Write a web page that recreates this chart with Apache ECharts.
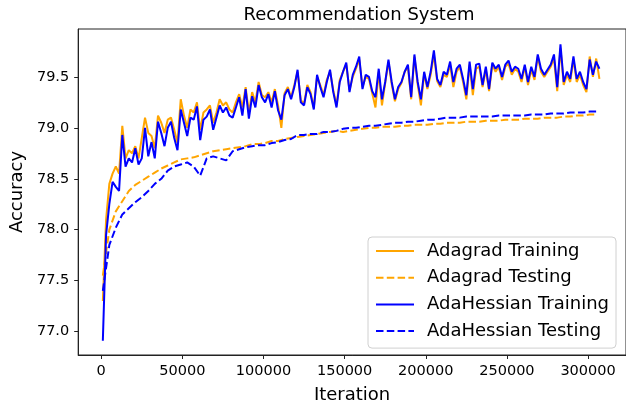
<!DOCTYPE html>
<html>
<head>
<meta charset="utf-8">
<script src="https://cdn.jsdelivr.net/npm/echarts@6/dist/echarts.min.js"></script>
<style>
  html, body { margin: 0; padding: 0; background: #fff; }
  #chart { width: 626px; height: 409px; }
</style>
</head>
<body>
<div id="chart"></div>
<script>
// logging: training every 2000 iterations, testing every 4000, both from iteration 1000
const firstIter = 1000;
const trainStep = 2000;
const testStep = 4000;

const xTicks = [0, 50000, 100000, 150000, 200000, 250000, 300000];
const yTicks = [77.0, 77.5, 78.0, 78.5, 79.0, 79.5];

const adagradTrain = [
  77.30, 78.10, 78.45, 78.55, 78.62, 78.55, 79.02, 78.70, 78.78, 78.75,
  78.82, 78.70, 78.90, 79.10, 78.95, 78.92, 78.80, 79.12, 79.05, 78.95,
  79.08, 79.10, 78.98, 78.85, 79.28, 79.12, 79.00, 79.18, 79.15, 79.25,
  78.98, 79.15, 79.18, 79.22, 79.05, 79.15, 79.28, 79.22, 79.25, 79.18,
  79.15, 79.25, 79.33, 79.20, 79.40, 79.15, 79.35, 79.25, 79.45, 79.32,
  79.30, 79.35, 79.25, 79.38, 79.22, 79.00, 79.34, 79.40, 79.30, 79.42,
  79.55, 79.27, 79.24, 79.42, 79.35, 79.20, 79.50, 79.42, 79.32, 79.47,
  79.55, 79.37, 79.22, 79.47, 79.55, 79.62, 79.37, 79.50, 79.58, 79.67,
  79.40, 79.50, 79.48, 79.34, 79.20, 79.55, 79.22, 79.44, 79.65, 79.43,
  79.26, 79.38, 79.44, 79.55, 79.60, 79.28, 79.70, 79.43, 79.22, 79.53,
  79.38, 79.52, 79.72, 79.46, 79.40, 79.52, 79.50, 79.62, 79.40, 79.55,
  79.60, 79.45, 79.28, 79.62, 79.32, 79.58, 79.60, 79.40, 79.57, 79.36,
  79.62, 79.55, 79.60, 79.47, 79.60, 79.63, 79.52, 79.58, 79.55, 79.45,
  79.60, 79.42, 79.57, 79.47, 79.70, 79.55, 79.50, 79.55, 79.60, 79.68,
  79.36, 79.78, 79.42, 79.52, 79.45, 79.67, 79.45, 79.52, 79.42, 79.35,
  79.70, 79.50, 79.68, 79.48
];

const adagradTest = [
  77.55, 78.00, 78.18, 78.28, 78.38, 78.44, 78.48, 78.52, 78.56, 78.60,
  78.63, 78.66, 78.69, 78.70, 78.71, 78.73, 78.75, 78.77, 78.78, 78.79,
  78.80, 78.81, 78.82, 78.84, 78.84, 78.85, 78.87, 78.87, 78.89, 78.90,
  78.91, 78.92, 78.93, 78.94, 78.95, 78.96, 78.97, 78.96, 78.97, 78.98,
  78.99, 79.00, 79.00, 79.01, 79.01, 79.01, 79.02, 79.02, 79.03, 79.03,
  79.03, 79.04, 79.04, 79.05, 79.05, 79.05, 79.06, 79.06, 79.06, 79.07,
  79.07, 79.07, 79.08, 79.08, 79.08, 79.09, 79.09, 79.09, 79.10, 79.10,
  79.10, 79.11, 79.11, 79.12, 79.12, 79.13, 79.13
];

const adahessianTrain = [
  76.91, 77.95, 78.25, 78.47, 78.42, 78.38, 78.93, 78.62, 78.70, 78.66,
  78.80, 78.64, 78.70, 79.00, 78.72, 78.86, 78.70, 79.06, 78.95, 78.82,
  79.00, 79.06, 78.90, 78.78, 79.18, 79.05, 78.92, 79.10, 79.08, 79.21,
  78.88, 79.08, 79.11, 79.18, 78.98, 79.10, 79.22, 79.15, 79.20, 79.12,
  79.10, 79.20, 79.30, 79.12, 79.38, 79.09, 79.31, 79.20, 79.42, 79.30,
  79.25, 79.33, 79.20, 79.36, 79.17, 79.08, 79.32, 79.38, 79.28, 79.40,
  79.57, 79.25, 79.22, 79.40, 79.33, 79.18, 79.52, 79.40, 79.30, 79.45,
  79.57, 79.35, 79.20, 79.45, 79.55, 79.64, 79.35, 79.52, 79.60, 79.70,
  79.38, 79.52, 79.50, 79.36, 79.30, 79.58, 79.28, 79.45, 79.67, 79.45,
  79.28, 79.40, 79.45, 79.55, 79.62, 79.30, 79.72, 79.45, 79.28, 79.55,
  79.40, 79.55, 79.76, 79.48, 79.42, 79.55, 79.52, 79.65, 79.45, 79.58,
  79.62, 79.48, 79.32, 79.65, 79.38, 79.62, 79.63, 79.42, 79.60, 79.38,
  79.64, 79.58, 79.62, 79.50, 79.62, 79.66, 79.55, 79.60, 79.58, 79.48,
  79.62, 79.45, 79.60, 79.50, 79.72, 79.58, 79.52, 79.57, 79.62, 79.72,
  79.40, 79.82, 79.45, 79.55, 79.48, 79.70, 79.48, 79.55, 79.45, 79.38,
  79.67, 79.52, 79.65, 79.58
];

const adahessianTest = [
  77.40, 77.85, 78.02, 78.15, 78.21, 78.27, 78.32, 78.38, 78.45, 78.50,
  78.58, 78.62, 78.64, 78.66, 78.62, 78.53, 78.70, 78.72, 78.70, 78.68,
  78.77, 78.79, 78.81, 78.82, 78.83, 78.83, 78.85, 78.86, 78.88, 78.89,
  78.93, 78.93, 78.94, 78.94, 78.96, 78.96, 78.97, 78.99, 79.00, 79.00,
  79.01, 79.02, 79.02, 79.03, 79.04, 79.05, 79.05, 79.06, 79.06, 79.07,
  79.08, 79.08, 79.09, 79.10, 79.10, 79.10, 79.11, 79.11, 79.11, 79.11,
  79.11, 79.12, 79.12, 79.12, 79.12, 79.12, 79.13, 79.13, 79.13, 79.14,
  79.14, 79.14, 79.15, 79.15, 79.15, 79.16, 79.16
];

const ORANGE = '#FFA500';
const BLUE = '#0000FF';
const FONT = 'DejaVu Sans';

function pairs(values, step) {
  return values.map((v, i) => [firstIter + i * step, v]);
}

function lineSeries(name, values, step, color, dashed) {
  return {
    name: name,
    type: 'line',
    data: pairs(values, step),
    symbol: 'none',
    showSymbol: false,
    smooth: false,
    lineStyle: { color: color, width: 2, type: dashed ? [7.5, 3.3] : 'solid' },
    itemStyle: { color: color }
  };
}

const chart = echarts.init(document.getElementById('chart'), null, { renderer: 'canvas' });

const option = {
  animation: false,
  backgroundColor: '#fff',
  textStyle: { fontFamily: FONT },
  title: {
    text: 'Recommendation System',
    left: 354,
    top: 1,
    textAlign: 'center',
    textStyle: { fontFamily: FONT, fontSize: 18, fontWeight: 'normal', color: '#000' }
  },
  grid: {
    left: 77,
    top: 29,
    width: 554,
    height: 329,
    show: true,
    borderColor: '#222',
    borderWidth: 1,
    backgroundColor: 'transparent'
  },
  legend: {
    orient: 'vertical',
    left: 368,
    top: 237,
    padding: [5, 7, 8, 7],
    itemWidth: 38,
    itemHeight: 14,
    itemGap: 8.7,
    backgroundColor: 'rgba(255,255,255,0.8)',
    borderColor: '#d0d0d0',
    borderWidth: 1,
    borderRadius: 4,
    itemStyle: { opacity: 0 },
    textStyle: { fontFamily: FONT, fontSize: 18, color: '#000', lineHeight: 18, padding: [0, 0, 0, 8] },
    data: ['Adagrad Training', 'Adagrad Testing', 'AdaHessian Training', 'AdaHessian Testing']
  },
  xAxis: {
    type: 'value',
    min: -14190,
    max: 323380,
    name: 'Iteration',
    nameLocation: 'middle',
    nameGap: 31,
    nameTextStyle: { fontFamily: FONT, fontSize: 18, color: '#000' },
    axisLine: { show: true, onZero: false, lineStyle: { color: '#222', width: 1 } },
    axisTick: { show: true, inside: false, length: 4, lineStyle: { color: '#222' }, customValues: xTicks },
    axisLabel: {
      margin: 9,
      fontFamily: FONT,
      fontSize: 14.5,
      color: '#000',
      customValues: xTicks,
      formatter: v => String(v)
    },
    splitLine: { show: false }
  },
  yAxis: {
    type: 'value',
    min: 76.77,
    max: 79.97,
    name: 'Accuracy',
    nameLocation: 'middle',
    nameGap: 48,
    nameTextStyle: { fontFamily: FONT, fontSize: 18, color: '#000' },
    axisLine: { show: true, onZero: false, lineStyle: { color: '#222', width: 1 } },
    axisTick: { show: true, inside: false, length: 4, lineStyle: { color: '#222' }, customValues: yTicks },
    axisLabel: {
      margin: 9,
      fontFamily: FONT,
      fontSize: 14.5,
      color: '#000',
      customValues: yTicks,
      formatter: v => v.toFixed(1)
    },
    splitLine: { show: false }
  },
  series: [
    lineSeries('Adagrad Training', adagradTrain, trainStep, ORANGE, false),
    lineSeries('Adagrad Testing', adagradTest, testStep, ORANGE, true),
    lineSeries('AdaHessian Training', adahessianTrain, trainStep, BLUE, false),
    lineSeries('AdaHessian Testing', adahessianTest, testStep, BLUE, true)
  ]
};

chart.setOption(option);
</script>
</body>
</html>
